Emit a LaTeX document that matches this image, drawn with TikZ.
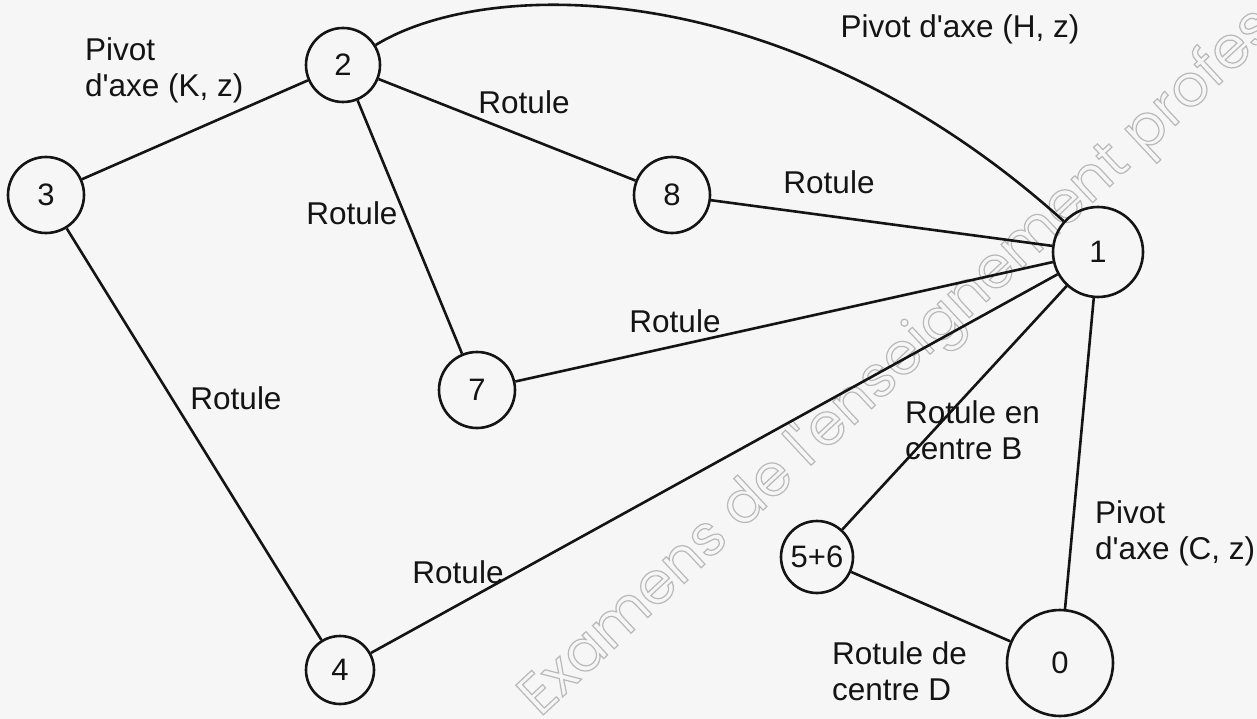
\documentclass[tikz,border=0pt]{standalone}
\usepackage{fontspec}
\setmainfont{Liberation Sans}
\newfontfamily\wmfont{Poppins}
\definecolor{paper}{RGB}{246,246,246}
\definecolor{ink}{RGB}{20,20,20}
\newcommand{\apos}{\textquotesingle}
\begin{document}
\begin{tikzpicture}[x=1pt,y=-1pt,
  part/.style={draw=ink,circle,line width=2.6pt,inner sep=0pt,
    font=\fontsize{31}{35}\selectfont,text=ink},
  link/.style={draw=ink,line width=2.6pt},
  lbl/.style={inner sep=0pt,font=\fontsize{31.5}{36}\selectfont,text=ink},
  mlbl/.style={lbl,align=left,anchor=north west}]
\fill[paper] (0,0) rectangle (1257,719);
\useasboundingbox (0,0) rectangle (1257,719);

% watermark, outlined letters
\node[inner sep=0pt,anchor=base west,rotate=43,text=gray!55,
  font=\wmfont\fontsize{58}{60}\selectfont] (wm) at (540,718)
  {\special{pdf:literal direct q 1 Tr 1.2 w}Examens de l\apos enseignement professionnel\special{pdf:literal direct Q}};

% parts
\node[part,minimum size=74] (n2) at (343,65) {2};
\node[part,minimum size=76] (n3) at (46,195) {3};
\node[part,minimum size=76] (n8) at (672,195) {8};
\node[part,minimum size=90] (n1) at (1098,252) {1};
\node[part,minimum size=76] (n7) at (477,390) {7};
\node[part,minimum size=72] (n56) at (817,557) {5+6};
\node[part,minimum size=68] (n4) at (340,670) {4};
\node[part,minimum size=106] (n0) at (1060,663) {0};

% joints
\draw[link] (n3) -- (n2);
\draw[link] (n3) -- (n4);
\draw[link] (n2) -- (n8);
\draw[link] (n2) -- (n7);
\draw[link] (n2) .. controls (490,-25) and (790,-25) .. (n1);
\draw[link] (n8) -- (n1);
\draw[link] (n7) -- (n1);
\draw[link] (n4) -- (n1);
\draw[link] (n56) -- (n1);
\draw[link] (n0) -- (n1);
\draw[link] (n56) -- (n0);

% joint labels
\node[mlbl] (lK) at (85,37) {Pivot\\d\apos axe (K, z)};
\node[lbl,anchor=base] (lH) at (960,38) {Pivot d\apos axe (H, z)};
\node[lbl,anchor=base] (l28) at (524,114) {Rotule};
\node[lbl,anchor=base] (l81) at (829,194) {Rotule};
\node[lbl,anchor=base] (l27) at (352,225) {Rotule};
\node[lbl,anchor=base] (l71) at (675,332) {Rotule};
\node[lbl,anchor=base] (l34) at (236,409) {Rotule};
\node[lbl,anchor=base] (l41) at (458,583) {Rotule};
\node[mlbl] (lB) at (905,400) {Rotule en\\centre B};
\node[mlbl] (lC) at (1095,500) {Pivot\\d\apos axe (C, z)};
\node[mlbl] (lD) at (832,641) {Rotule de\\centre D};
\end{tikzpicture}
\end{document}
